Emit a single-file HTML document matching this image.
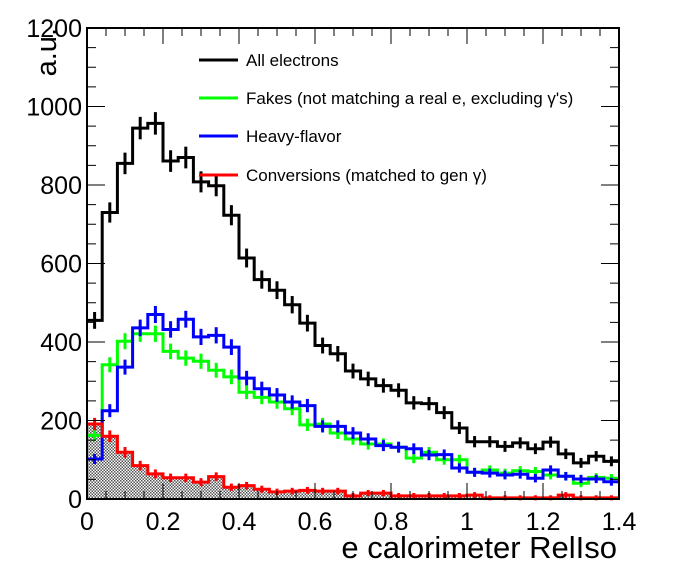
<!DOCTYPE html>
<html><head><meta charset="utf-8"><style>
body{margin:0;background:#fff}
svg{font-family:"Liberation Sans",sans-serif}
</style></head><body>
<svg id="c" width="696" height="572">
<defs>
<pattern id="hatch" width="3" height="3" patternUnits="userSpaceOnUse">
<rect width="3" height="3" fill="#fff"/><rect width="1.5" height="1.5" fill="#555"/><rect x="1.5" y="1.5" width="1.5" height="1.5" fill="#555"/>
</pattern>
</defs>
</svg>
<script>
const binWidth=0.04;
const allE=[455,730,855,945,957,861,870,808,798,723,614,559,532,495,448,391,370,326,306,289,277,245,243,220,181,146,146,134,143,128,145,115,92,109,96];
const fakes=[162,342,402,421,421,376,359,351,328,311,272,259,247,230,189,191,168,153,140,140,132,104,119,100,100,68,74,66,72,70,61,58,40,55,53];
const heavy=[102,225,336,436,470,432,458,413,417,387,308,281,265,247,238,185,185,168,153,136,132,128,112,113,79,68,66,61,63,53,74,58,51,51,44];
const conv=[191,160,119,85,64,54,54,43,57,30,34,25,18,20,22,20,20,8,15,15,8,8,8,8,8,10,3,3,3,3,3,10,3,3,3];
const xTicks=[0,0.2,0.4,0.6,0.8,1,1.2,1.4];
const yTicks=[0,200,400,600,800,1000,1200];
const L=87,R=619,T=28,B=499;
const X=v=>L+(v/1.4)*(R-L);
const Y=v=>B-(v/1200)*(B-T);
const svg=document.getElementById('c');
const NS='http://www.w3.org/2000/svg';
function mk(t,a,p){const e=document.createElementNS(NS,t);for(const k in a)e.setAttribute(k,a[k]);(p||svg).appendChild(e);return e;}
function stepPath(vals,close){let d='M'+X(0)+','+(close?Y(0):Y(vals[0]));vals.forEach((v,i)=>{d+=' L'+X(i*binWidth)+','+Y(v)+' L'+X((i+1)*binWidth)+','+Y(v);});if(close)d+=' L'+X(vals.length*binWidth)+','+Y(0)+' Z';return d;}
let f=mk('path',{d:stepPath(conv,true),fill:'url(#hatch)',stroke:'none'});


const series=[[allE,'#000','all-electrons'],[fakes,'#00ff00','fakes'],[heavy,'#0000ff','heavy-flavor'],[conv,'#ff0000','conversions']];
series.forEach(([vals,col,name])=>{
 const g=mk('g',{});
 
 
 const p=mk('path',{d:stepPath(vals,false),fill:'none',stroke:col,'stroke-width':3},g);
 
 
 vals.forEach((v,i)=>{const cx=X((i+0.5)*binWidth);const e=Math.sqrt(v)*0.3+2;
  const b=mk('line',{x1:cx,x2:cx,y1:Y(v)-e,y2:Y(v)+e,stroke:col,'stroke-width':3},g);
  
  });
});
const fr=mk('rect',{x:L,y:T,width:R-L,height:B-T,fill:'none',stroke:'#000','stroke-width':2});


for(let i=0;i<=28;i++){const v=i*0.05,x=X(v),len=i%4==0?16:8;mk('line',{x1:x,x2:x,y1:B,y2:B-len,stroke:'#000','stroke-width':1});mk('line',{x1:x,x2:x,y1:T,y2:T+len,stroke:'#000','stroke-width':1});}
for(let i=0;i<=24;i++){const v=i*50,y=Y(v),len=i%4==0?18:9;mk('line',{x1:L,x2:L+len,y1:y,y2:y,stroke:'#000','stroke-width':1});mk('line',{x1:R,x2:R-len,y1:y,y2:y,stroke:'#000','stroke-width':1});}
xTicks.forEach(v=>{const t=mk('text',{x:X(v),y:530,'text-anchor':'middle','font-size':25});t.textContent=String(v);
 
 });
yTicks.forEach(v=>{const t=mk('text',{x:82,y:Y(v)+9,'text-anchor':'end','font-size':25});t.textContent=String(v);
 
 });
let xt=mk('text',{x:617,y:558,'text-anchor':'end','font-size':31});xt.textContent='e calorimeter RelIso';


let yt=mk('text',{x:0,y:0,'text-anchor':'end','font-size':29,transform:'translate(56,28) rotate(-90)'});yt.textContent='a.u.';


const legTexts=['All electrons','Fakes (not matching a real e, excluding \u03b3\'s)','Heavy-flavor','Conversions (matched to gen \u03b3)'];
const legCols=['#000','#00ff00','#0000ff','#ff0000'];
const legY=[60,98,136,175];
legTexts.forEach((s,i)=>{const g=mk('g',{});
 
 
 mk('line',{x1:199,x2:238,y1:legY[i],y2:legY[i],stroke:legCols[i],'stroke-width':3},g);
 const t=mk('text',{x:246,y:legY[i]+6,'font-size':17},g);t.textContent=s;});
</script>
</body></html>
